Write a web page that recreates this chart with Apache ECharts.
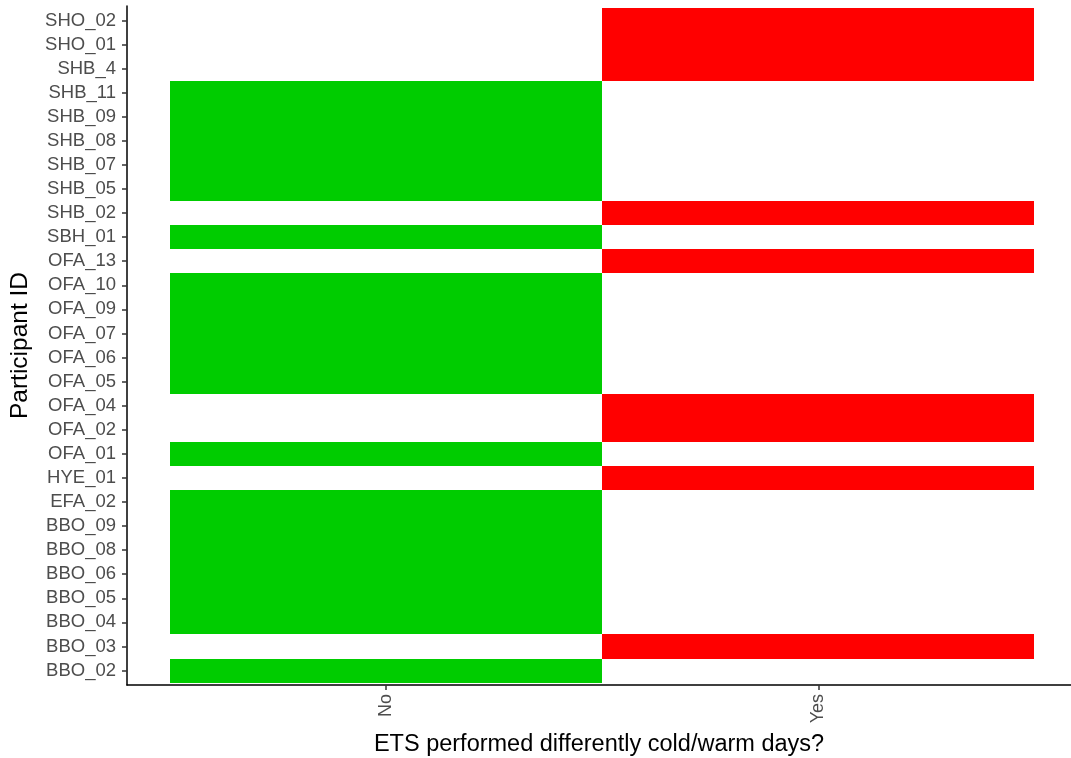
<!DOCTYPE html>
<html>
<head>
<meta charset="utf-8">
<script src="https://cdn.jsdelivr.net/npm/echarts@6/dist/echarts.min.js"></script>
<style>html,body{margin:0;padding:0;background:#fff}#c{width:1071px;height:758px}</style>
</head>
<body>
<div id="c"></div>
<script>
// Participants listed bottom to top
const participants = ["BBO_02","BBO_03","BBO_04","BBO_05","BBO_06","BBO_08","BBO_09","EFA_02","HYE_01","OFA_01","OFA_02","OFA_04","OFA_05","OFA_06","OFA_07","OFA_09","OFA_10","OFA_13","SBH_01","SHB_02","SHB_05","SHB_07","SHB_08","SHB_09","SHB_11","SHB_4","SHO_01","SHO_02"];
const answers = ["No","Yes","No","No","No","No","No","No","Yes","No","Yes","Yes","No","No","No","No","No","Yes","No","Yes","No","No","No","No","No","Yes","Yes","Yes"];
const xCategories = ["No","Yes"];
const answerColors = {"No":"#00CC00","Yes":"#FF0000"};

const data = participants.map((p,i)=>[xCategories.indexOf(answers[i]), i, answers[i]]);

const chart = echarts.init(document.getElementById('c'));
const font = "'Liberation Sans', Arial, sans-serif";
chart.setOption({
  animation:false,
  grid:{left:127, right:0, top:6, bottom:73, outerBoundsMode:'none', containLabel:false},
  xAxis:{
    type:'value', min:-0.6, max:1.585,
    name:'ETS performed differently cold/warm days?',
    nameLocation:'middle', nameGap:48,
    nameTextStyle:{color:'#000', fontSize:23.5, fontFamily:font},
    axisLine:{show:true, onZero:false, lineStyle:{color:'#000', width:1.5}},
    axisTick:{show:true, customValues:[0,1], length:5, lineStyle:{color:'#333', width:1.5}},
    axisLabel:{customValues:[0,1], rotate:90, margin:9, color:'#4d4d4d', fontSize:18, fontFamily:font,
      formatter:v=>xCategories[Math.round(v)]},
    splitLine:{show:false}
  },
  yAxis:{
    type:'value', min:-0.6, max:27.6,
    name:'Participant ID', nameLocation:'middle', nameGap:94, nameRotate:90,
    nameTextStyle:{color:'#000', fontSize:24.5, fontFamily:font},
    axisLine:{show:true, onZero:false, lineStyle:{color:'#000', width:1.5}},
    axisTick:{show:true, customValues:participants.map((_,i)=>i), length:5, lineStyle:{color:'#333', width:1.5}},
    axisLabel:{customValues:participants.map((_,i)=>i), margin:11, color:'#4d4d4d', fontSize:18.5, fontFamily:font,
      formatter:v=>participants[Math.round(v)]},
    splitLine:{show:false}
  },
  series:[{
    type:'custom',
    data:data,
    encode:{x:0,y:1},
    renderItem:function(params, api){
      const x = api.value(0), y = api.value(1);
      const p0 = api.coord([x-0.5, y+0.5]);
      const p1 = api.coord([x+0.5, y-0.5]);
      const x0 = Math.round(p0[0]), y0 = Math.round(p0[1]);
      const x1 = Math.round(p1[0]), y1 = Math.round(p1[1]);
      const ans = data[params.dataIndex][2];
      return {type:'rect', shape:{x:x0, y:y0, width:x1-x0, height:y1-y0},
        style:{fill:answerColors[ans]}};
    }
  }]
});
</script>
</body>
</html>
